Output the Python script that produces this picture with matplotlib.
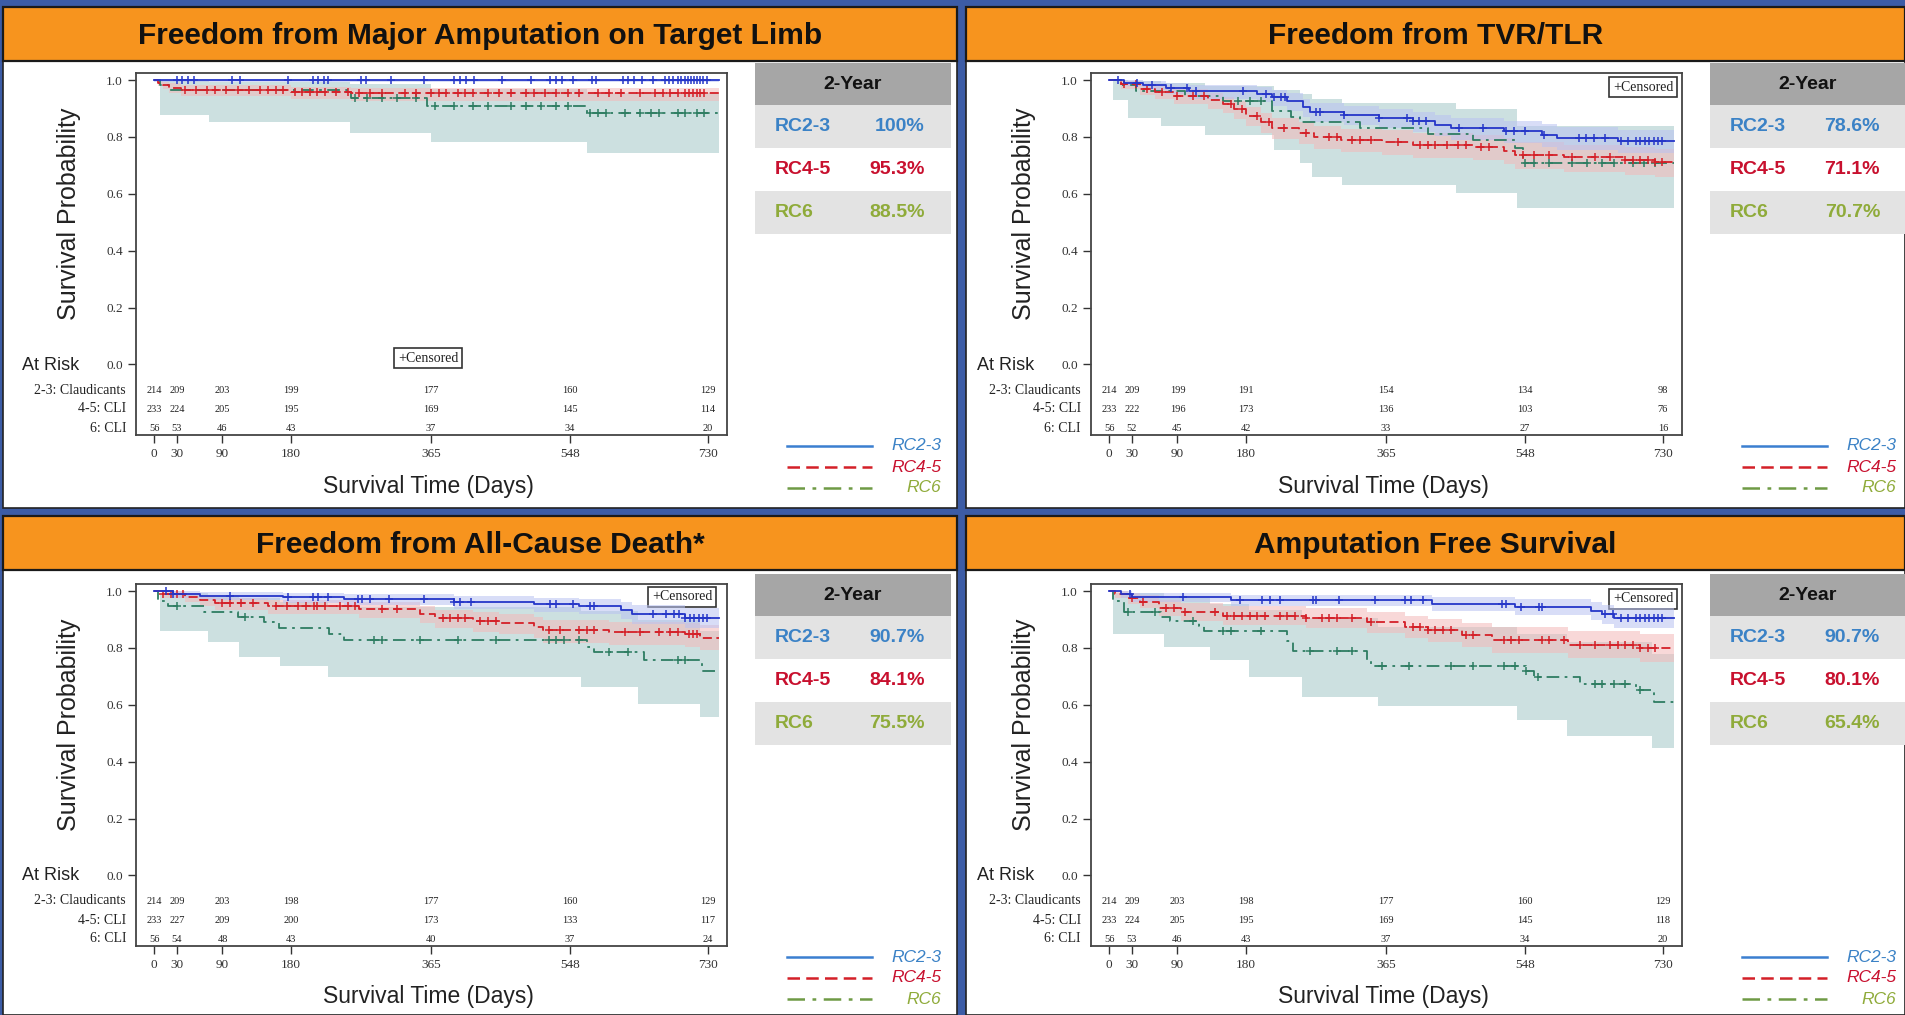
import numpy as np
import matplotlib
matplotlib.use("Agg")
import matplotlib.pyplot as plt
from matplotlib.patches import Rectangle

# ---------------- data ----------------
TITLES = ["Freedom from Major Amputation on Target Limb", "Freedom from TVR/TLR",
          "Freedom from All-Cause Death*", "Amputation Free Survival"]
GROUPS = ["RC2-3", "RC4-5", "RC6"]
RISK_LABELS = ["2-3: Claudicants", "4-5: CLI", "6: CLI"]
RISK_DAYS = [0, 30, 90, 180, 365, 548, 730]

AMP_2YR = ["100%", "95.3%", "88.5%"]
TVR_2YR = ["78.6%", "71.1%", "70.7%"]
DTH_2YR = ["90.7%", "84.1%", "75.5%"]
AFS_2YR = ["90.7%", "80.1%", "65.4%"]

AMP_RISK = [[214, 209, 203, 199, 177, 160, 129], [233, 224, 205, 195, 169, 145, 114], [56, 53, 46, 43, 37, 34, 20]]
TVR_RISK = [[214, 209, 199, 191, 154, 134, 98], [233, 222, 196, 173, 136, 103, 76], [56, 52, 45, 42, 33, 27, 16]]
DTH_RISK = [[214, 209, 203, 198, 177, 160, 129], [233, 227, 209, 200, 173, 133, 117], [56, 54, 48, 43, 40, 37, 24]]
AFS_RISK = [[214, 209, 203, 198, 177, 160, 129], [233, 224, 205, 195, 169, 145, 118], [56, 53, 46, 43, 37, 34, 20]]

# Major amputation
AMP_RC23_T = [0]
AMP_RC23_S = [1.0]
AMP_RC23_LO = [0.993]
AMP_RC23_HI = [1.0]
AMP_RC23_C = [30, 37, 45, 52, 103, 113, 176, 209, 216, 224, 229, 272, 279, 312, 355, 395, 403, 411, 421, 459,
              496, 522, 529, 537, 552, 577, 582, 618, 625, 633, 643, 658, 673, 678, 684, 690, 695, 700, 704, 708,
              712, 716, 720, 724, 728]
AMP_RC45_T = [0, 5, 12, 20, 35, 180, 260]
AMP_RC45_S = [1.0, 0.991, 0.983, 0.974, 0.965, 0.958, 0.953]
AMP_RC45_LO = [1.0, 0.979, 0.967, 0.955, 0.943, 0.934, 0.926]
AMP_RC45_HI = [1.0, 1.0, 0.995, 0.989, 0.982, 0.977, 0.973]
AMP_RC45_C = [40, 55, 70, 80, 95, 110, 125, 140, 150, 160, 170, 185, 195, 205, 215, 225, 240, 255, 270, 285,
              300, 330, 345, 365, 375, 385, 400, 410, 420, 440, 455, 470, 490, 500, 515, 530, 545, 560, 585, 600,
              615, 640, 660, 670, 680, 690, 700, 705, 710, 715, 720, 725]
AMP_RC6_T = [0, 8, 20, 260, 360, 570]
AMP_RC6_S = [1.0, 0.982, 0.964, 0.938, 0.91, 0.885]
AMP_RC6_BT = [0, 8, 72, 258, 365, 570]
AMP_RC6_LO = [1.0, 0.878, 0.854, 0.813, 0.784, 0.743]
AMP_RC6_HI = [1.0, 0.998, 0.993, 0.985, 0.97, 0.955]
AMP_RC6_C = [265, 280, 300, 320, 345, 370, 395, 420, 440, 470, 490, 510, 530, 545, 575, 585, 595, 620, 640,
             655, 665, 690, 700, 715, 725]

# TVR / TLR
TVR_RC23_T = [0, 20, 45, 75, 105, 195, 215, 235, 255, 265, 310, 355, 400, 430, 450, 520, 570, 590, 670]
TVR_RC23_S = [1.0, 0.991, 0.982, 0.972, 0.96, 0.952, 0.94, 0.925, 0.905, 0.888, 0.878, 0.868, 0.855, 0.842,
              0.83, 0.82, 0.808, 0.796, 0.786]
TVR_RC23_LO = [1.0, 0.978, 0.964, 0.95, 0.934, 0.924, 0.91, 0.893, 0.871, 0.853, 0.842, 0.831, 0.817, 0.803,
               0.79, 0.779, 0.766, 0.753, 0.742]
TVR_RC23_HI = [1.0, 1.0, 0.996, 0.99, 0.982, 0.976, 0.966, 0.953, 0.935, 0.919, 0.91, 0.9, 0.889, 0.877,
               0.866, 0.857, 0.846, 0.835, 0.826]
TVR_RC23_C = [12, 37, 57, 82, 102, 115, 177, 207, 217, 227, 232, 272, 278, 310, 355, 393, 400, 408, 418, 461,
              493, 523, 533, 548, 573, 619, 629, 639, 654, 674, 684, 694, 700, 706, 712, 718, 724, 729]
TVR_RC45_T = [0, 15, 40, 60, 85, 130, 150, 165, 180, 200, 215, 250, 270, 305, 360, 400, 480, 520, 535, 600,
              680, 720]
TVR_RC45_S = [1.0, 0.985, 0.97, 0.958, 0.945, 0.93, 0.915, 0.898, 0.875, 0.852, 0.832, 0.815, 0.8, 0.79,
              0.783, 0.773, 0.765, 0.752, 0.738, 0.728, 0.718, 0.711]
TVR_RC45_LO = [1.0, 0.97, 0.948, 0.933, 0.917, 0.9, 0.883, 0.864, 0.839, 0.814, 0.792, 0.774, 0.757, 0.746,
               0.738, 0.727, 0.718, 0.704, 0.689, 0.678, 0.667, 0.659]
TVR_RC45_HI = [1.0, 0.997, 0.988, 0.979, 0.968, 0.955, 0.942, 0.926, 0.905, 0.884, 0.866, 0.851, 0.838,
               0.829, 0.823, 0.814, 0.807, 0.795, 0.782, 0.773, 0.764, 0.758]
TVR_RC45_C = [20, 35, 50, 70, 90, 110, 125, 160, 175, 195, 210, 230, 260, 290, 300, 320, 330, 345, 380, 410,
              420, 430, 445, 460, 470, 490, 500, 545, 560, 580, 610, 640, 660, 680, 690, 700, 710, 720, 728]
TVR_RC6_T = [0, 15, 35, 100, 150, 215, 240, 252, 330, 420, 480, 535, 545]
TVR_RC6_S = [1.0, 0.982, 0.963, 0.945, 0.927, 0.89, 0.87, 0.852, 0.83, 0.81, 0.79, 0.76, 0.707]
TVR_RC6_BT = [0, 5, 25, 68, 126, 217, 252, 267, 307, 457, 537]
TVR_RC6_LO = [1.0, 0.93, 0.867, 0.837, 0.808, 0.755, 0.708, 0.661, 0.632, 0.603, 0.55]
TVR_RC6_HI = [1.0, 1.0, 0.998, 0.99, 0.98, 0.965, 0.95, 0.935, 0.92, 0.9, 0.84]
TVR_RC6_C = [170, 185, 200, 548, 560, 580, 610, 630, 650, 665, 690, 705, 720]

# All-cause death
DTH_RC23_T = [0, 25, 60, 170, 250, 395, 500, 560, 615, 630, 700]
DTH_RC23_S = [1.0, 0.99, 0.984, 0.978, 0.972, 0.963, 0.955, 0.948, 0.935, 0.92, 0.907]
DTH_RC23_LO = [1.0, 0.977, 0.967, 0.958, 0.95, 0.938, 0.927, 0.918, 0.902, 0.885, 0.87]
DTH_RC23_HI = [1.0, 1.0, 0.997, 0.993, 0.989, 0.983, 0.977, 0.972, 0.962, 0.95, 0.939]
DTH_RC23_C = [15, 25, 100, 176, 209, 216, 229, 269, 274, 284, 310, 355, 395, 403, 418, 522, 529, 552, 575, 580,
              658, 675, 685, 692, 700, 706, 712, 718, 724, 729]
DTH_RC45_T = [0, 10, 40, 60, 80, 150, 270, 350, 370, 420, 455, 500, 512, 600, 700, 720]
DTH_RC45_S = [1.0, 0.99, 0.98, 0.97, 0.957, 0.948, 0.937, 0.92, 0.905, 0.895, 0.887, 0.875, 0.862, 0.855,
              0.848, 0.835]
DTH_RC45_LO = [1.0, 0.977, 0.962, 0.949, 0.932, 0.921, 0.907, 0.887, 0.869, 0.857, 0.848, 0.834, 0.819, 0.811,
               0.802, 0.793]
DTH_RC45_HI = [1.0, 1.0, 0.993, 0.986, 0.976, 0.969, 0.96, 0.946, 0.934, 0.926, 0.919, 0.909, 0.898, 0.893,
               0.887, 0.881]
DTH_RC45_C = [12, 22, 30, 38, 90, 100, 115, 130, 160, 175, 190, 200, 210, 215, 225, 245, 255, 265, 300, 320,
              380, 390, 400, 410, 430, 440, 450, 520, 535, 560, 570, 580, 620, 640, 665, 680, 690, 705, 710, 715]
DTH_RC6_T = [0, 5, 18, 65, 110, 145, 165, 230, 250, 570, 580, 645, 722]
DTH_RC6_S = [1.0, 0.964, 0.946, 0.928, 0.91, 0.89, 0.87, 0.848, 0.828, 0.805, 0.785, 0.757, 0.72]
DTH_RC6_BT = [0, 8, 71, 112, 166, 229, 562, 638, 719]
DTH_RC6_LO = [1.0, 0.861, 0.82, 0.767, 0.738, 0.697, 0.662, 0.603, 0.556]
DTH_RC6_HI = [1.0, 0.995, 0.985, 0.975, 0.96, 0.945, 0.93, 0.9, 0.86]
DTH_RC6_C = [30, 120, 290, 300, 350, 400, 450, 520, 530, 540, 560, 600, 625, 690, 700]

# Amputation free survival
AFS_RC23_T = [0, 15, 30, 160, 425, 535, 635, 650, 665]
AFS_RC23_S = [1.0, 0.99, 0.978, 0.967, 0.955, 0.943, 0.93, 0.918, 0.907]
AFS_RC23_LO = [1.0, 0.977, 0.961, 0.946, 0.93, 0.915, 0.899, 0.885, 0.872]
AFS_RC23_HI = [1.0, 1.0, 0.995, 0.988, 0.98, 0.971, 0.961, 0.951, 0.942]
AFS_RC23_C = [27, 97, 172, 202, 212, 225, 268, 273, 303, 350, 390, 398, 413, 518, 523, 543, 566, 571, 654, 664,
              674, 684, 694, 700, 706, 712, 718, 724, 729]
AFS_RC45_T = [0, 8, 25, 40, 65, 95, 150, 260, 340, 390, 420, 465, 505, 605, 700]
AFS_RC45_S = [1.0, 0.99, 0.975, 0.963, 0.94, 0.926, 0.914, 0.905, 0.89, 0.875, 0.862, 0.846, 0.828, 0.812, 0.801]
AFS_RC45_LO = [1.0, 0.977, 0.955, 0.939, 0.912, 0.895, 0.881, 0.87, 0.853, 0.836, 0.821, 0.803, 0.783, 0.765,
               0.752]
AFS_RC45_HI = [1.0, 1.0, 0.995, 0.987, 0.968, 0.957, 0.947, 0.94, 0.927, 0.914, 0.903, 0.889, 0.873, 0.859, 0.85]
AFS_RC45_C = [30, 45, 75, 85, 100, 140, 155, 165, 175, 185, 195, 205, 225, 235, 245, 260, 280, 290, 300, 320,
              345, 400, 410, 420, 430, 440, 450, 470, 480, 520, 530, 540, 570, 580, 600, 620, 640, 660, 670, 680,
              690, 700, 710, 720]
AFS_RC6_T = [0, 5, 20, 68, 80, 118, 125, 235, 242, 340, 345, 550, 560, 620, 695, 718]
AFS_RC6_S = [1.0, 0.964, 0.928, 0.91, 0.895, 0.878, 0.861, 0.825, 0.79, 0.755, 0.738, 0.72, 0.698, 0.674,
             0.654, 0.61]
AFS_RC6_BT = [0, 5, 72, 133, 184, 254, 354, 538, 603, 715]
AFS_RC6_LO = [1.0, 0.849, 0.802, 0.756, 0.697, 0.626, 0.597, 0.545, 0.492, 0.45]
AFS_RC6_HI = [1.0, 0.995, 0.975, 0.955, 0.935, 0.905, 0.875, 0.85, 0.82, 0.78]
AFS_RC6_C = [25, 60, 110, 150, 160, 200, 265, 300, 320, 360, 395, 450, 480, 520, 535, 550, 565, 640, 650, 665,
             680, 700]

PANELS = [
    (TITLES[0], AMP_2YR, AMP_RISK, [
        (AMP_RC23_T, AMP_RC23_S, AMP_RC23_T, AMP_RC23_LO, AMP_RC23_HI, AMP_RC23_C),
        (AMP_RC45_T, AMP_RC45_S, AMP_RC45_T, AMP_RC45_LO, AMP_RC45_HI, AMP_RC45_C),
        (AMP_RC6_T, AMP_RC6_S, AMP_RC6_BT, AMP_RC6_LO, AMP_RC6_HI, AMP_RC6_C)], (428, 358)),
    (TITLES[1], TVR_2YR, TVR_RISK, [
        (TVR_RC23_T, TVR_RC23_S, TVR_RC23_T, TVR_RC23_LO, TVR_RC23_HI, TVR_RC23_C),
        (TVR_RC45_T, TVR_RC45_S, TVR_RC45_T, TVR_RC45_LO, TVR_RC45_HI, TVR_RC45_C),
        (TVR_RC6_T, TVR_RC6_S, TVR_RC6_BT, TVR_RC6_LO, TVR_RC6_HI, TVR_RC6_C)], (1643, 87)),
    (TITLES[2], DTH_2YR, DTH_RISK, [
        (DTH_RC23_T, DTH_RC23_S, DTH_RC23_T, DTH_RC23_LO, DTH_RC23_HI, DTH_RC23_C),
        (DTH_RC45_T, DTH_RC45_S, DTH_RC45_T, DTH_RC45_LO, DTH_RC45_HI, DTH_RC45_C),
        (DTH_RC6_T, DTH_RC6_S, DTH_RC6_BT, DTH_RC6_LO, DTH_RC6_HI, DTH_RC6_C)], (682, 597)),
    (TITLES[3], AFS_2YR, AFS_RISK, [
        (AFS_RC23_T, AFS_RC23_S, AFS_RC23_T, AFS_RC23_LO, AFS_RC23_HI, AFS_RC23_C),
        (AFS_RC45_T, AFS_RC45_S, AFS_RC45_T, AFS_RC45_LO, AFS_RC45_HI, AFS_RC45_C),
        (AFS_RC6_T, AFS_RC6_S, AFS_RC6_BT, AFS_RC6_LO, AFS_RC6_HI, AFS_RC6_C)], (1643, 599)),
]

# ---------------- styles ----------------
SANS = "Liberation Sans"
SERIF = "Liberation Serif"
END_DAY = 745
CURVE_COL = ["#2536c8", "#d42028", "#2e7d62"]
CURVE_LS = ["-", (0, (5, 2.5)), (0, (7, 3, 1.5, 3))]
BAND_COL = ["#b9c2f2", "#f3b9b9", "#bcd6d6"]
BAND_ALPHA = [0.55, 0.55, 0.75]
TEXT_COL = ["#3b82c6", "#c8102e", "#8fab3a"]
LEG_LINE = ["#3b7fd0", "#d42028", "#6f9a45"]

W, H = 1905, 1015
fig = plt.figure(figsize=(W / 100, H / 100), dpi=100, facecolor="#3c5ca6")
bg = fig.add_axes([0, 0, 1, 1])
bg.set_xlim(0, W)
bg.set_ylim(H, 0)
bg.axis("off")


def frac(x0, y0, x1, y1):
    return [x0 / W, 1 - y1 / H, (x1 - x0) / W, (y1 - y0) / H]


for i, (title, pct, risk, curves, cbox) in enumerate(PANELS):
    col, row = i % 2, i // 2
    ox = 0 if col == 0 else 955
    oy = 0 if row == 0 else 511
    px0, px1 = (3, 957) if col == 0 else (966, 1905)
    py0, py1 = (7, 508) if row == 0 else (516, 1015)

    # panel + orange title bar
    bg.add_patch(Rectangle((px0, py0), px1 - px0, py1 - py0, fc="white", ec="#222222", lw=1.2))
    bg.add_patch(Rectangle((px0, py0), px1 - px0, 54, fc="#f7941e", ec="#1a1a1a", lw=1.6))
    bg.text((px0 + px1) / 2, py0 + 29, title, ha="center", va="center", fontsize=21.5,
            fontweight="bold", family=SANS, color="#111111")

    # 2-year table
    tx0, tx1 = ox + 755, min(ox + 951, W)
    rows_y = [(63, 105), (105, 148), (148, 191), (191, 234)]
    fills = ["#a6a6a6", "#e3e3e3", "white", "#e3e3e3"]
    for (a, b), fc in zip(rows_y, fills):
        bg.add_patch(Rectangle((tx0, a + oy), tx1 - tx0, b - a, fc=fc, ec="none"))
    bg.text((tx0 + tx1) / 2, 84 + oy, "2-Year", ha="center", va="center", fontsize=14,
            fontweight="bold", family=SANS, color="#111111")
    for k in range(3):
        yc = (rows_y[k + 1][0] + rows_y[k + 1][1]) / 2 + oy
        bg.text(tx0 + 20, yc, GROUPS[k], ha="left", va="center", fontsize=14, fontweight="bold",
                family=SANS, color=TEXT_COL[k])
        bg.text(tx0 + 170, yc, pct[k], ha="right", va="center", fontsize=14, fontweight="bold",
                family=SANS, color=TEXT_COL[k])

    # legend
    for k in range(3):
        ly = 446 + oy + 21 * k
        bg.plot([787 + ox, 872 + ox], [ly, ly], color=LEG_LINE[k], ls=CURVE_LS[k], lw=1.8)
        bg.text(941 + ox, ly, GROUPS[k], ha="right", va="center", fontsize=12.5, style="italic",
                family=SANS, color=TEXT_COL[k])

    # labels around the plot
    bg.text(69 + ox, 214 + oy, "Survival Probability", rotation=90, ha="center", va="center",
            fontsize=18, family=SANS, color="#222222")
    bg.text(428 + ox, 486 + oy, "Survival Time (Days)", ha="center", va="center",
            fontsize=16.5, family=SANS, color="#222222")
    bg.text(51 + ox, 365 + oy, "At Risk", ha="center", va="center", fontsize=13,
            family=SANS, color="#222222")
    for k, lab in enumerate(RISK_LABELS):
        bg.text(126 + ox, 390 + oy + 19 * k, lab, ha="right", va="center", fontsize=10,
                family=SERIF, color="#222222")
    bg.text(cbox[0], cbox[1], "+Censored", ha="center", va="center", fontsize=10, family=SERIF,
            color="#222222", bbox=dict(boxstyle="square,pad=0.25", fc="white", ec="#333333", lw=1.2))

    # KM plot
    ax = fig.add_axes(frac(136 + ox, 73 + oy, 727 + ox, 435 + oy))
    ax.set_facecolor("none")
    ax.set_xlim(-24, 755)
    ax.set_ylim(-0.248, 1.025)
    for k in [2, 1, 0]:
        t, s, bt, lo, hi, cens = curves[k]
        ax.fill_between(bt + [END_DAY], lo + [lo[-1]], hi + [hi[-1]], step="post",
                        color=BAND_COL[k], alpha=BAND_ALPHA[k], lw=0)
    for k in [2, 1, 0]:
        t, s, bt, lo, hi, cens = curves[k]
        ax.step(t + [END_DAY], s + [s[-1]], where="post", color=CURVE_COL[k], ls=CURVE_LS[k], lw=1.3)
        idx = np.searchsorted(t, cens, side="right") - 1
        ax.plot(cens, np.array(s)[idx], ls="none", marker="+", ms=6, mew=1.1, color=CURVE_COL[k])

    for k in range(3):
        for d, n in zip(RISK_DAYS, risk[k]):
            ax.text(d, -0.09 - 0.067 * k, str(n), ha="center", va="center", fontsize=7.5,
                    family=SERIF, color="#222222")

    ax.set_yticks([0, 0.2, 0.4, 0.6, 0.8, 1.0])
    ax.set_yticklabels(["0.0", "0.2", "0.4", "0.6", "0.8", "1.0"], family=SERIF)
    ax.set_xticks(RISK_DAYS)
    ax.set_xticklabels([str(d) for d in RISK_DAYS], family=SERIF)
    ax.tick_params(labelsize=9.5, length=6, width=1.0, colors="#333333")
    for sp in ax.spines.values():
        sp.set_color("#444444")
        sp.set_linewidth(1.3)

fig.savefig("out.png", dpi=100, facecolor=fig.get_facecolor())
